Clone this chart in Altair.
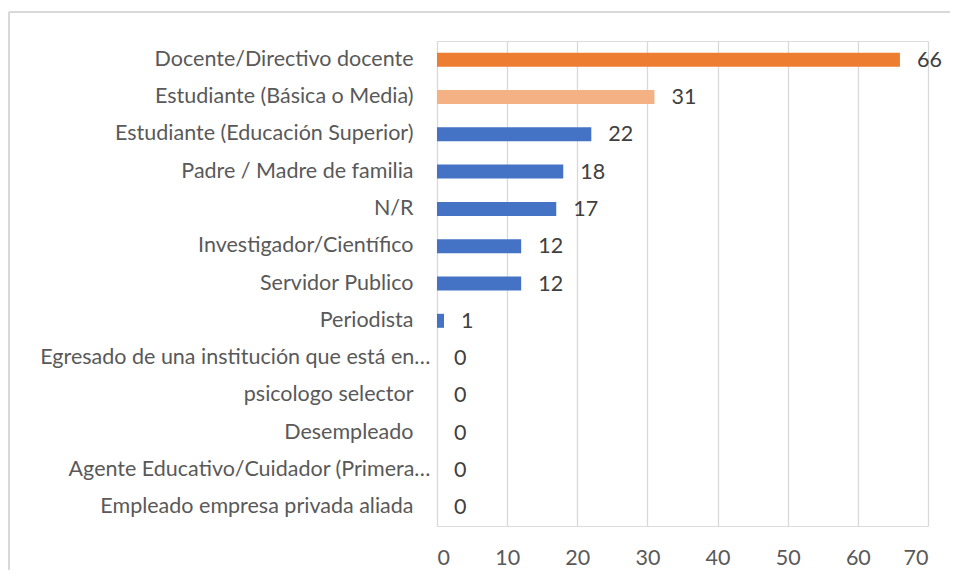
import altair as alt
import pandas as pd

categories = [
    "Docente/Directivo docente",
    "Estudiante (Básica o Media)",
    "Estudiante (Educación Superior)",
    "Padre / Madre de familia ",
    "N/R",
    "Investigador/Científico",
    "Servidor Publico",
    "Periodista",
    "Egresado de una institución que está en…",
    "psicologo selector",
    "Desempleado",
    "Agente Educativo/Cuidador (Primera…",
    "Empleado empresa privada aliada",
]
values = [66, 31, 22, 18, 17, 12, 12, 1, 0, 0, 0, 0, 0]
groups = ["a", "b", "c", "c", "c", "c", "c", "c", "c", "c", "c", "c", "c"]
x_ticks = [0, 10, 20, 30, 40, 50, 60, 70]

df = pd.DataFrame({"cat": categories, "val": values, "grp": groups})

FONT = "Lato"
FS = 21.5
PLOT_L, PLOT_T = 437, 41

y_enc = alt.Y(
    "cat:N",
    sort=categories,
    title=None,
    scale=alt.Scale(paddingInner=0.625, paddingOuter=0.3125),
    axis=alt.Axis(
        domain=False,
        ticks=False,
        labelFont=FONT,
        labelFontSize=FS,
        labelColor="#595959",
        labelPadding={"expr": "indexof(datum.label, '…') >= 0 ? 7 : 24"},
        labelLimit=500,
    ),
)
x_enc = alt.X(
    "val:Q",
    title=None,
    scale=alt.Scale(domain=[0, 70], nice=False),
    axis=alt.Axis(
        values=x_ticks,
        domain=False,
        ticks=False,
        grid=True,
        gridColor="#d9d9d9",
        gridWidth=1.3,
        labelFont=FONT,
        labelFontSize=FS,
        labelColor="#595959",
        labelPadding=21,
    ),
)

border_left = alt.Chart(df).mark_rule(stroke="#d9d9d9", strokeWidth=1.3).encode(
    x=alt.value(9 - PLOT_L),
    y=alt.value(12 - PLOT_T),
    y2=alt.value(560),
)
border_top = alt.Chart(df).mark_rule(stroke="#d9d9d9", strokeWidth=1.3).encode(
    x=alt.value(9 - PLOT_L),
    x2=alt.value(530),
    y=alt.value(12 - PLOT_T),
)

bars = alt.Chart(df).mark_bar().encode(
    y=y_enc,
    x=x_enc,
    color=alt.Color(
        "grp:N",
        scale=alt.Scale(domain=["a", "b", "c"], range=["#ED7D31", "#F4B183", "#4472C4"]),
        legend=None,
    ),
)

labels = alt.Chart(df).mark_text(
    align="left", baseline="middle", dx=17, dy=1, font=FONT, fontSize=FS, color="#404040"
).encode(
    y=alt.Y("cat:N", sort=categories),
    x=alt.X("val:Q"),
    text=alt.Text("val:Q"),
)

chart = alt.layer(border_left, border_top, bars, labels).properties(
    width=491,
    height=485,
    autosize=alt.AutoSizeParams(type="none"),
    padding={"left": PLOT_L - 8, "top": PLOT_T - 8, "right": 22, "bottom": 44},
).configure_view(stroke=None).configure(background="white")

chart.save("out.html", embed_options={"renderer": "svg", "actions": False})
